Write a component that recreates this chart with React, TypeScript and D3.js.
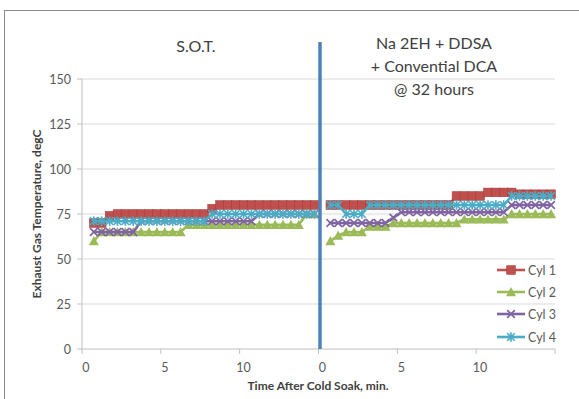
import React from "react";
import * as d3 from "d3";

// Exhaust gas temperature per cylinder, sampled every 30 s after cold soak.
// Two runs share one category axis: indices 0-29 (S.O.T.) and 30-59 (additive run).
const cyl1: (number | null)[] = [
  null, 70, 70, 74, 75, 75, 75, 75, 75, 75, 75, 75, 75, 75, 75, 75, 78, 80, 80, 80, 80, 80, 80, 80, 80, 80, 80, 80, 80, 80,
  null, 80, 80, 80, 80, 80, 80, 80, 80, 80, 80, 80, 80, 80, 80, 80, 80, 85, 85, 85, 85, 87, 87, 87, 87, 86, 86, 86, 86, 86,
];
const cyl2: (number | null)[] = [
  null, 60, 65, 65, 65, 65, 65, 65, 65, 65, 65, 65, 65, 69, 69, 69, 69, 69, 69, 69, 69, 69, 69, 69, 69, 69, 69, 69, 75, 75,
  null, 60, 63, 65, 65, 65, 68, 68, 68, 70, 70, 70, 70, 70, 70, 70, 70, 70, 72, 72, 72, 72, 72, 72, 75, 75, 75, 75, 75, 75,
];
const cyl3: (number | null)[] = [
  null, 65, 65, 65, 65, 65, 65, 71, 71, 71, 71, 71, 71, 71, 71, 71, 71, 71, 71, 71, 71, 71, 75, 75, 75, 75, 75, 75, 75, 75,
  null, 70, 70, 70, 70, 70, 70, 70, 70, 73, 76, 76, 76, 76, 76, 76, 76, 76, 76, 76, 76, 76, 76, 76, 80, 80, 80, 80, 80, 80,
];
const cyl4: (number | null)[] = [
  null, 71, 71, 71, 71, 71, 71, 71, 71, 71, 71, 71, 71, 71, 71, 71, 75, 75, 75, 75, 75, 75, 75, 75, 75, 75, 75, 75, 75, 75,
  null, 80, 80, 75, 75, 75, 80, 80, 80, 80, 80, 80, 80, 80, 80, 80, 80, 80, 80, 80, 80, 80, 80, 80, 85, 85, 85, 85, 85, 85,
];

const seriesNames = ["Cyl 1", "Cyl 2", "Cyl 3", "Cyl 4"];
const seriesValues = [cyl1, cyl2, cyl3, cyl4];
const seriesColors = ["#C0504D", "#9BBB59", "#8064A2", "#4BACC6"];
const seriesMarkers = ["square", "triangle", "cross", "star"];

// Category labels shown every 10 samples (every 5 minutes)
const tickIndices = [0, 10, 20, 30, 40, 50];
const tickLabels = ["0", "5", "10", "0", "5", "10"];
const yTicks = [0, 25, 50, 75, 100, 125, 150];

const W = 579;
const H = 399;
const FONT = "Lato, 'Open Sans', sans-serif";

function Marker({ kind, x, y, color }: { kind: string; x: number; y: number; color: string }) {
  if (kind === "square") {
    return <rect x={x - 4.3} y={y - 4.3} width={8.6} height={8.6} fill={color} stroke="#A5403D" strokeWidth={0.6} />;
  }
  if (kind === "triangle") {
    return <path d={`M${x},${y - 5}L${x + 5},${y + 4.2}L${x - 5},${y + 4.2}Z`} fill={color} />;
  }
  if (kind === "cross") {
    const s = 3.8;
    return (
      <path
        d={`M${x - s},${y - s}L${x + s},${y + s}M${x - s},${y + s}L${x + s},${y - s}`}
        stroke={color}
        strokeWidth={1.7}
        fill="none"
      />
    );
  }
  const s = 3.8;
  return (
    <path
      d={`M${x - s},${y - s}L${x + s},${y + s}M${x - s},${y + s}L${x + s},${y - s}M${x},${y - 4.8}L${x},${y + 4.8}`}
      stroke={color}
      strokeWidth={1.6}
      fill="none"
    />
  );
}

export default function App() {
  const n = cyl1.length;
  const x = d3.scaleBand<number>().domain(d3.range(n)).range([82, 555]).padding(0);
  const bw = x.bandwidth();
  const cx = (i: number) => (x(i) as number) + bw / 2;
  const y = d3.scaleLinear().domain([0, 150]).range([349, 79]);

  const line = d3
    .line<number | null>()
    .defined((d) => d !== null)
    .x((_, i) => cx(i))
    .y((d) => y(d as number));

  const boundaryTicks = [0, 10, 20, 30, 40, 50].map((i) => x(i) as number).concat([555]);
  const splitX = (x(30) as number) + 1.5;

  const legendY = [270, 292, 314, 337];

  return (
    <svg
      width={W}
      height={H}
      style={{ position: "absolute", left: 0, top: 0, background: "#fff" }}
      fontFamily={FONT}
    >
      {/* chart frame */}
      <rect x={4.5} y={10.5} width={640} height={420} fill="#fff" stroke="#8A8A8A" strokeWidth={1} />

      {/* horizontal gridlines */}
      {yTicks.slice(1).map((t) => (
        <line key={t} x1={82} x2={555} y1={y(t)} y2={y(t)} stroke="#D9D9D9" strokeWidth={1} />
      ))}

      {/* y axis */}
      <line x1={82} x2={82} y1={79} y2={349} stroke="#BFBFBF" />
      {yTicks.map((t) => (
        <g key={t}>
          <line x1={77} x2={82} y1={y(t)} y2={y(t)} stroke="#BFBFBF" />
          <text x={71} y={y(t) + 4.5} textAnchor="end" fontSize={12.5} fill="#595959">
            {t}
          </text>
        </g>
      ))}

      {/* x axis */}
      <line x1={82} x2={555} y1={349} y2={349} stroke="#BFBFBF" />
      {boundaryTicks.map((tx, i) => (
        <line key={i} x1={tx} x2={tx} y1={349} y2={354} stroke="#BFBFBF" />
      ))}
      {tickIndices.map((ti, k) => (
        <text key={ti} x={cx(ti)} y={372} textAnchor="middle" fontSize={12.5} fill="#595959">
          {tickLabels[k]}
        </text>
      ))}

      {/* series: line then markers, drawn in order */}
      {seriesValues.map((vals, s) => (
        <g key={seriesNames[s]}>
          <path d={line(vals) || ""} fill="none" stroke={seriesColors[s]} strokeWidth={2.6} />
          {vals.map((v, i) =>
            v === null ? null : (
              <Marker key={i} kind={seriesMarkers[s]} x={cx(i)} y={y(v)} color={seriesColors[s]} />
            )
          )}
        </g>
      ))}

      {/* divider between the two runs */}
      <line x1={splitX} x2={splitX} y1={42} y2={349} stroke="#4F81BD" strokeWidth={3.5} />

      {/* run titles */}
      <text x={196} y={52} textAnchor="middle" fontSize={16} fill="#404040">
        S.O.T.
      </text>
      <text textAnchor="middle" fontSize={16} fill="#404040">
        <tspan x={434} y={49}>Na 2EH + DDSA</tspan>
        <tspan x={434} y={72}>+ Convential DCA</tspan>
        <tspan x={434} y={95}>@ 32 hours</tspan>
      </text>

      {/* axis titles */}
      <text
        transform={`translate(41,${(y(0) + y(150)) / 2}) rotate(-90)`}
        textAnchor="middle"
        fontSize={12}
        fontWeight="bold"
        fill="#404040"
      >
        Exhaust Gas Temperature, degC
      </text>
      <text x={318} y={390} textAnchor="middle" fontSize={12} fontWeight="bold" fill="#404040">
        Time After Cold Soak, min.
      </text>

      {/* legend */}
      {seriesNames.map((name, s) => (
        <g key={name}>
          <line x1={497} x2={525} y1={legendY[s]} y2={legendY[s]} stroke={seriesColors[s]} strokeWidth={2.6} />
          <Marker kind={seriesMarkers[s]} x={511} y={legendY[s]} color={seriesColors[s]} />
          <text x={528} y={legendY[s] + 4.5} fontSize={12.5} fill="#595959">
            {name}
          </text>
        </g>
      ))}
    </svg>
  );
}
